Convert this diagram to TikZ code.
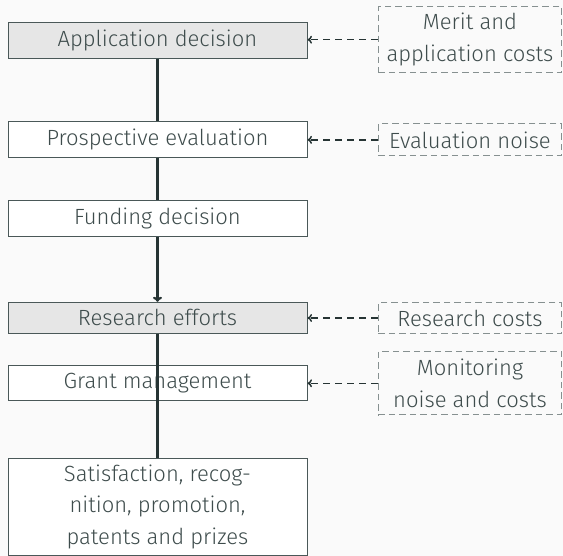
\documentclass[tikz,border=0pt]{standalone}
\usepackage{fontspec}
\setmainfont{Fira Sans}[UprightFont={* Light}]
\usetikzlibrary{arrows.meta}
\definecolor{bgcol}{HTML}{FAFAFA}
\definecolor{txtcol}{HTML}{3E4C4C}
\definecolor{linecol}{HTML}{263434}
\definecolor{boxcol}{HTML}{4A5858}
\definecolor{dashcol}{HTML}{869090}
\definecolor{shade}{HTML}{E6E6E6}
\tikzset{
  x=1pt, y=-1pt,
  every node/.style={font=\fontsize{22}{31.5}\selectfont, text=txtcol},
  stage/.style={draw=boxcol, line width=1pt, fill=white, minimum width=299pt, align=center, inner sep=0pt},
  shaded/.style={stage, fill=shade},
  factor/.style={draw=dashcol, dash pattern=on 6.5pt off 4pt, line width=1pt, minimum width=183.5pt, align=center, inner sep=0pt},
  flow/.style={draw=linecol, line width=2.2pt},
  influence/.style={draw=linecol, line width=1.5pt, dash pattern=on 7pt off 5pt, -{To[length=4.5pt,width=8pt]}},
}
\begin{document}
\begin{tikzpicture}
  \fill[bgcol] (0,0) rectangle (563,556);
  \useasboundingbox (0,0) rectangle (563,556);

  % main sequence of stages
  \node[shaded, minimum height=36pt] (app) at (157.5,40.3) {Application decision};
  \node[stage, minimum height=35.6pt] (eval) at (157.5,139.5) {Prospective evaluation};
  \node[stage, minimum height=36pt] (fund) at (157.5,218.7) {Funding decision};
  \node[shaded, minimum height=31pt] (res) at (157.5,317.8) {Research efforts};
  \node[stage, minimum height=34.7pt] (grant) at (157.5,383.3) {Grant management};
  \node[stage, minimum height=97pt] (out) at (157.5,506.9) {Satisfaction, recog-\\nition, promotion,\\patents and prizes};

  % external factors
  \node[factor, minimum height=66pt] (merit) at (470,39.7) {Merit and\\application costs};
  \node[factor, minimum height=31.7pt] (noise) at (470,139.85) {Evaluation noise};
  \node[factor, minimum height=30.6pt] (rcost) at (470,318) {Research costs};
  \node[factor, minimum height=63.3pt] (mon) at (470,383.3) {Monitoring\\noise and costs};

  % connectors between stages
  \draw[flow] (app.south) -- (eval.north);
  \draw[flow] (eval.south) -- (fund.north);
  \draw[flow, -{To[length=5pt,width=9pt]}] (fund.south) -- (res.north);
  \draw[flow] (res.south) -- (out.north);

  % influences of the factors
  \draw[influence] (merit.west) -- (merit.west -| app.east);
  \draw[influence] (noise.west) -- (noise.west -| eval.east);
  \draw[influence] (rcost.west) -- (rcost.west -| res.east);
  \draw[influence] (mon.west) -- (mon.west -| grant.east);
\end{tikzpicture}
\end{document}
